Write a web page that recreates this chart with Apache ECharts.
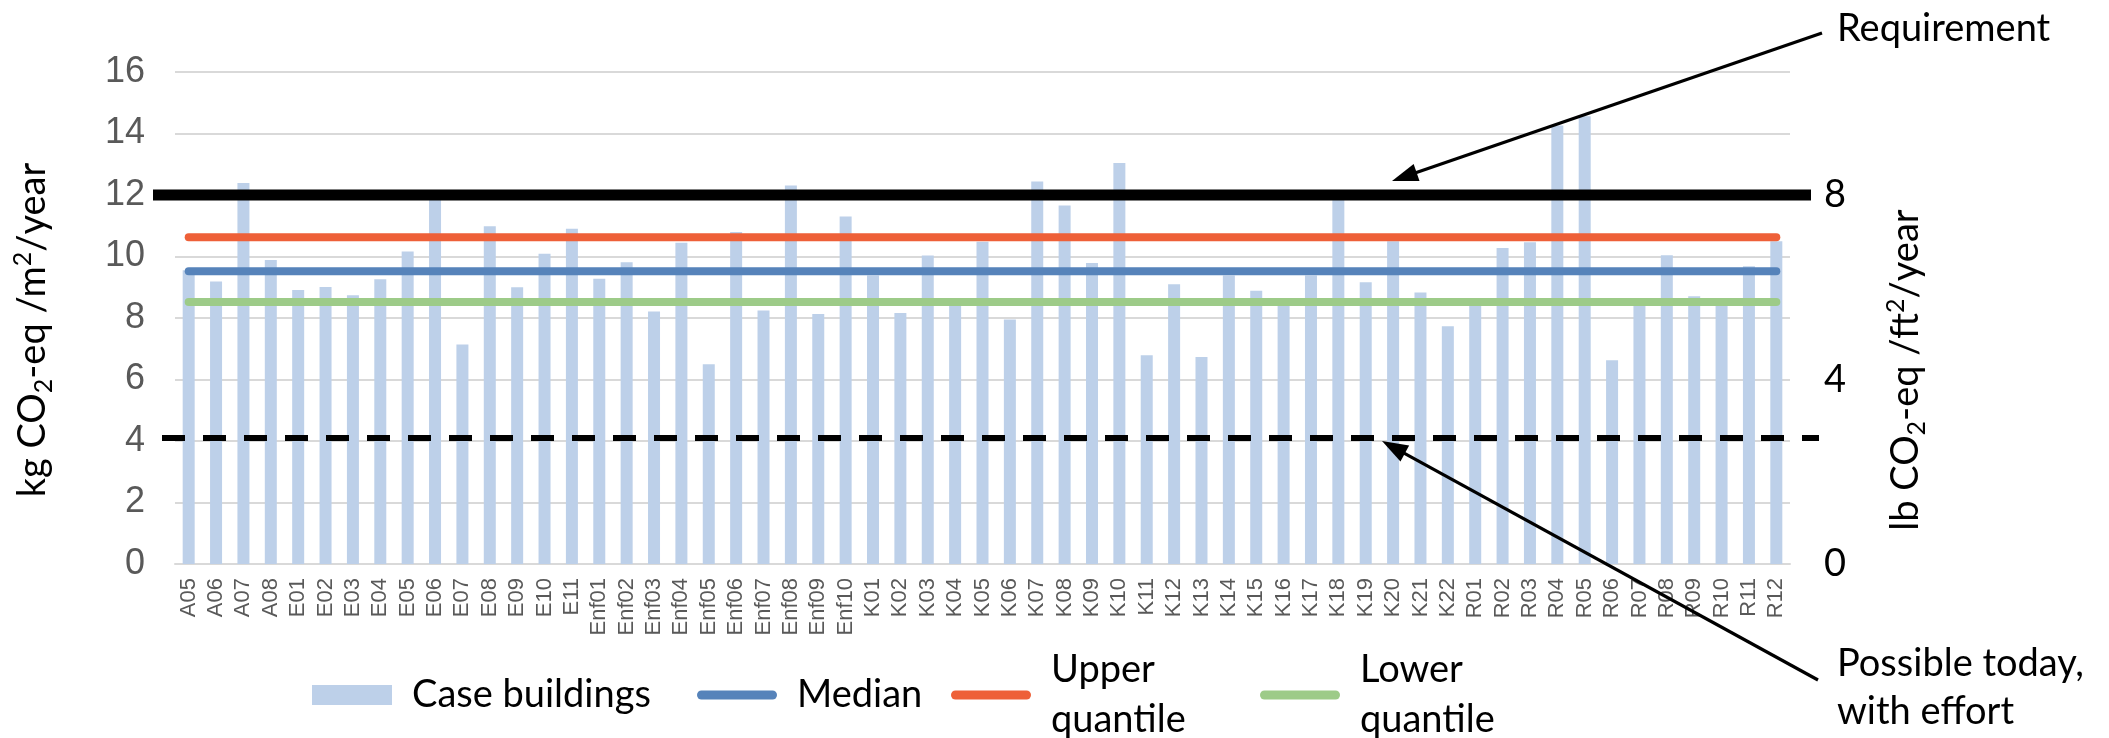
<!DOCTYPE html>
<html>
<head>
<meta charset="utf-8">
<script src="https://cdn.jsdelivr.net/npm/echarts@6/dist/echarts.min.js"></script>
<style>
html,body{margin:0;padding:0;background:#ffffff;}
#c{width:2109px;height:738px;}
</style>
</head>
<body>
<div id="c"></div>
<script>
// ---------------- data ----------------
const categories = [
  'A05','A06','A07','A08',
  'E01','E02','E03','E04','E05','E06','E07','E08','E09','E10','E11',
  'Enf01','Enf02','Enf03','Enf04','Enf05','Enf06','Enf07','Enf08','Enf09','Enf10',
  'K01','K02','K03','K04','K05','K06','K07','K08','K09','K10','K11',
  'K12','K13','K14','K15','K16','K17','K18','K19','K20','K21','K22',
  'R01','R02','R03','R04','R05','R06','R07','R08','R09','R10','R11','R12'
];
const caseBuildings = [
  9.55, 9.19, 12.39, 9.89,
  8.91, 9.01, 8.74, 9.26, 10.16, 11.9, 7.14, 10.98, 9.0, 10.09, 10.9,
  9.28, 9.81, 8.21, 10.45, 6.5, 10.8, 8.24, 12.31, 8.13, 11.3,
  9.38, 8.16, 10.03, 8.4, 10.48, 7.95, 12.44, 11.66, 9.79, 13.04, 6.79,
  9.1, 6.73, 9.38, 8.89, 8.4, 9.38, 11.85, 9.16, 10.5, 8.83, 7.73,
  8.4, 10.28, 10.46, 14.26, 14.56, 6.63, 8.4, 10.04, 8.71, 8.4, 9.68, 10.5
];
const medianValue = [9.52];
const upperQuantileValue = [10.63];
const lowerQuantileValue = [8.52];
const requirementValue = [12];
const possibleTodayValue = [4.1];
const leftTickLabels = [0, 2, 4, 6, 8, 10, 12, 14, 16];
const rightTickLabels = [0, 4, 8];          // lb axis: 8 aligns with 12 on the kg axis
const rightPerLeft = 8 / 12;

// ---------------- layout ----------------
const W = 2109, H = 738;
const GL = 175, GR = 1790, GT = 72, GB = 564;
const BLACK_FONT = 'Lato, "Open Sans", sans-serif';
const GRAY_FONT = '"Liberation Sans", Arial, sans-serif';
const FS = 38;
const C_BAR = '#BDD0E9', C_MED = '#5683BA', C_UP = '#EE6038', C_LOW = '#9DCB88';

const first = categories[0], last = categories[categories.length - 1];
const leftMax = leftTickLabels[leftTickLabels.length - 1];
const lineIcon = 'path://M4.5,0H75.5A4.5,4.5,0,0,1,75.5,9H4.5A4.5,4.5,0,0,1,4.5,0Z';

function legendComp(name, icon, left, top, twoLine) {
  return {
    data: [{ name: name, icon: icon }],
    left: left, top: top, padding: 0,
    itemWidth: 80, itemHeight: 20,
    selectedMode: false,
    itemStyle: { borderWidth: 0 },
    formatter: twoLine ? function (n) { return n.replace(' ', '\n'); } : '{name}',
    textStyle: { fontFamily: BLACK_FONT, fontSize: FS, color: '#000', lineHeight: twoLine ? 50 : 48, padding: [0, 0, 0, 15] }
  };
}

const chart = echarts.init(document.getElementById('c'), null, { renderer: 'canvas', width: W, height: H });

const option = {
  animation: false,
  backgroundColor: '#ffffff',
  grid: { left: GL, right: W - GR, top: GT, bottom: H - GB, containLabel: false },
  xAxis: {
    type: 'category', data: categories, boundaryGap: true,
    axisLine: { lineStyle: { color: '#D9D9D9', width: 2 } },
    axisTick: { show: false },
    axisLabel: { interval: 0, rotate: 90, margin: 14, fontFamily: GRAY_FONT, fontSize: 22, color: '#595959' }
  },
  yAxis: [
    {
      type: 'value', min: leftTickLabels[0], max: leftMax, interval: leftTickLabels[1] - leftTickLabels[0],
      axisLine: { show: false }, axisTick: { show: false },
      splitLine: { lineStyle: { color: '#D9D9D9', width: 2 } },
      axisLabel: { fontFamily: GRAY_FONT, fontSize: 36, color: '#595959', margin: 30 }
    },
    {
      type: 'value', position: 'right', min: 0, max: leftMax * rightPerLeft,
      interval: rightTickLabels[1] - rightTickLabels[0],
      axisLine: { show: false }, axisTick: { show: false }, splitLine: { show: false },
      axisLabel: { showMaxLabel: false, fontFamily: BLACK_FONT, fontSize: FS, color: '#000', margin: 34 }
    }
  ],
  legend: [
    legendComp('Case buildings', 'rect', 312, 671, false),
    legendComp('Median', lineIcon, 697, 671, false),
    legendComp('Upper quantile', lineIcon, 951, 645, true),
    legendComp('Lower quantile', lineIcon, 1260, 645, true)
  ],
  series: [
    { name: 'Case buildings', type: 'bar', data: caseBuildings, barWidth: 12, itemStyle: { color: C_BAR }, z: 1 },
    { name: 'Median', type: 'line', data: [[first, medianValue[0]], [last, medianValue[0]]], symbol: 'none',
      lineStyle: { color: C_MED, width: 8, cap: 'round' }, itemStyle: { color: C_MED }, z: 3 },
    { name: 'Upper quantile', type: 'line', data: [[first, upperQuantileValue[0]], [last, upperQuantileValue[0]]], symbol: 'none',
      lineStyle: { color: C_UP, width: 8, cap: 'round' }, itemStyle: { color: C_UP }, z: 3 },
    { name: 'Lower quantile', type: 'line', data: [[first, lowerQuantileValue[0]], [last, lowerQuantileValue[0]]], symbol: 'none',
      lineStyle: { color: C_LOW, width: 8, cap: 'round' }, itemStyle: { color: C_LOW }, z: 3 }
  ]
};
chart.setOption(option);

// ---------------- annotations ----------------
const yReq = chart.convertToPixel({ yAxisIndex: 0 }, requirementValue[0]);
const yPos = chart.convertToPixel({ yAxisIndex: 0 }, possibleTodayValue[0]);

function arrow(x1, y1, x2, y2) {
  const dx = x2 - x1, dy = y2 - y1, L = Math.hypot(dx, dy), ux = dx / L, uy = dy / L;
  const hl = 26, hw = 9;
  const bx = x2 - ux * hl, by = y2 - uy * hl;
  return [
    { type: 'line', z: 20, shape: { x1: x1, y1: y1, x2: bx + ux * 4, y2: by + uy * 4 }, style: { stroke: '#000', lineWidth: 3.2 } },
    { type: 'polygon', z: 20, shape: { points: [[x2, y2], [bx - uy * hw, by + ux * hw], [bx + uy * hw, by - ux * hw]] }, style: { fill: '#000' } }
  ];
}

const richBase = {
  a: { fontFamily: BLACK_FONT, fontSize: FS, lineHeight: 46, fill: '#000' },
  s: { fontFamily: BLACK_FONT, fontSize: 25, lineHeight: 25, verticalAlign: 'bottom', fill: '#000' },
  p: { fontFamily: BLACK_FONT, fontSize: 25, lineHeight: 25, verticalAlign: 'top', fill: '#000' }
};

const graphics = [
  { type: 'line', z: 15, shape: { x1: 153, y1: yReq, x2: 1811, y2: yReq }, style: { stroke: '#000', lineWidth: 11 } },
  { type: 'line', z: 15, shape: { x1: 162, y1: yPos, x2: 1819, y2: yPos }, style: { stroke: '#000', lineWidth: 6, lineDash: [23, 18] } },
  ...arrow(1822, 33, 1392, 181),
  ...arrow(1818, 680, 1382, 441),
  { type: 'text', z: 20, x: 1837, y: 29, style: { text: 'Requirement', fontFamily: BLACK_FONT, fontSize: FS, fill: '#000', align: 'left', verticalAlign: 'middle' } },
  { type: 'text', z: 20, x: 1837, y: 688, style: { text: 'Possible today,\nwith effort', fontFamily: BLACK_FONT, fontSize: FS, lineHeight: 48, fill: '#000', align: 'left', verticalAlign: 'middle' } },
  { type: 'text', z: 20, x: 33, y: 330, rotation: Math.PI / 2,
    style: { text: '{a|kg CO}{s|2}{a|-eq /m}{p|2}{a|/year}', rich: richBase, align: 'center', verticalAlign: 'middle' } },
  { type: 'text', z: 20, x: 1906, y: 370, rotation: Math.PI / 2,
    style: { text: '{a|lb CO}{s|2}{a|-eq /ft}{p|2}{a|/year}', rich: richBase, align: 'center', verticalAlign: 'middle' } }
];
chart.setOption({ graphic: graphics });
</script>
</body>
</html>
